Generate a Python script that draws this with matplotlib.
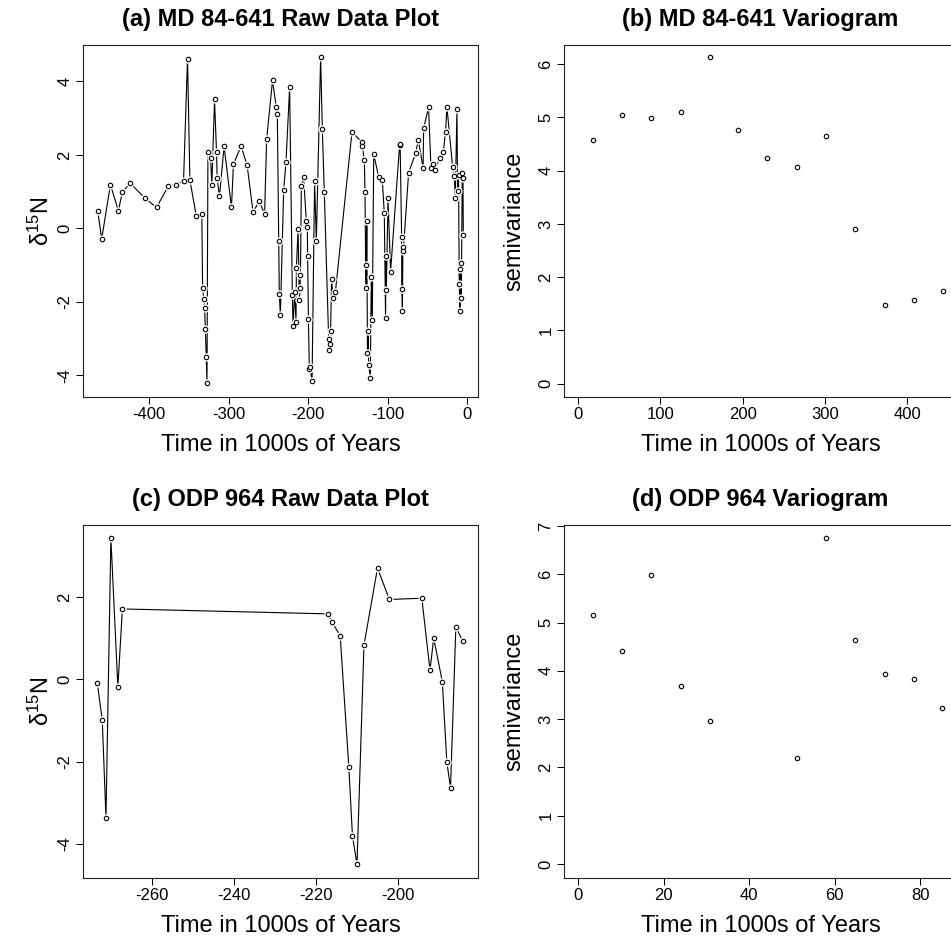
import matplotlib
matplotlib.use('Agg')
import matplotlib.pyplot as plt

plt.rcParams['font.family'] = ['Liberation Sans', 'DejaVu Sans']
plt.rcParams['mathtext.fontset'] = 'custom'
plt.rcParams['mathtext.rm'] = 'Liberation Sans'
plt.rcParams['mathtext.it'] = 'Liberation Sans:italic'
plt.rcParams['axes.unicode_minus'] = False

# ---------------- data ----------------
# (a) MD 84-641 raw data (time in kyr, d15N)
time_a = [-465, -460, -449, -439, -434, -424, -406, -391, -376, -366, -357, -352,
          -349, -341, -334, -333, -331.5, -330.5, -329.5, -328.5, -327.5, -326.3,
          -323, -321.4, -318, -315.5, -314.7, -311.8, -306, -296.7, -294.2, -284.6,
          -277, -269.5, -262, -255, -252.4, -245, -240.3, -239, -237.3, -236.5,
          -235.2, -231, -228.1, -223.5, -220.1, -219.2, -217.2, -215.5, -215,
          -212.9, -211.3, -210.4, -209.9, -208.8, -205.9, -202.5, -201.3, -200.9,
          -199.9, -198.7, -197.9, -195.3, -192.1, -189.9, -184.5, -182.4, -179.9,
          -174.4, -173.6, -172.8, -172, -170.7, -169, -166, -145, -133, -132,
          -129.5, -128.7, -127.9, -127.2, -126.4, -125.6, -124.8, -124.1, -122,
          -120.8, -119.5, -117.7, -111.6, -106.9, -104.4, -102.8, -102.3, -101.8,
          -99.7, -96.5, -85.2, -84.5, -82.6, -82.4, -81.6, -81.0, -80.5, -73.8,
          -65, -61.6, -55.6, -54.9, -48.7, -45.7, -43.6, -40.6, -34.8, -30.2,
          -27.3, -25.6, -18.5, -16.5, -15.1, -13, -12.2, -11, -10.1, -9.2, -8.8,
          -7.9, -7.5, -6.3, -5.4, -5]
d15n_a = [0.48, -0.29, 1.19, 0.48, 0.99, 1.23, 0.83, 0.57, 1.16, 1.19, 1.29, 4.62,
          1.32, 0.34, 0.38, -1.63, -1.91, -2.17, -2.73, -3.49, -4.2, 2.07,
          1.92, 1.19, 3.51, 2.07, 1.36, 0.87, 2.24, 0.57, 1.75, 2.24,
          1.72, 0.44, 0.74, 0.40, 2.44, 4.03, 3.29, 3.12, -0.34, -1.78,
          -2.36, 1.04, 1.81, 3.84, -1.81, -2.65, -1.72, -2.54, -1.07,
          -0.01, -1.95, -1.63, -1.27, 1.16, 1.40, 0.19, 0.04, -0.74,
          -2.45, -3.83, -3.76, -4.15, 1.29, -0.34, 4.66, 2.70, 1.00,
          -3.01, -3.31, -3.15, -2.80, -1.38, -1.88, -1.74, 2.63, 2.35, 2.25,
          1.85, 1.00, -0.99, -1.61, 0.21, -3.38, -2.78, -3.72, -4.06,
          -1.33, -2.49, 2.02, 1.41, 1.32, 0.41, -2.43, -0.74, -1.67,
          0.82, -1.18, 2.26, 2.30, -0.22, -1.65, -2.25, -0.51, -0.62, 1.52,
          2.04, 2.41, 1.65, 2.73, 3.29, 1.65, 1.75, 1.59, 1.91, 2.07,
          2.63, 3.31, 1.68, 1.43, 0.84, 3.24, 1.03, 1.45, -1.52, -2.24, -1.11,
          -0.93, -1.90, 1.50, 1.37, -0.18]

# (b) MD 84-641 variogram
lag_b = [18.6, 53.5, 88.7, 125.2, 160.0, 194.8, 230.0, 266.5, 301.7, 336.6, 373.0, 408.3, 443.1]
semi_b = [4.57, 5.04, 4.99, 5.11, 6.13, 4.77, 4.23, 4.07, 4.65, 2.91, 1.47, 1.58, 1.74]

# (c) ODP 964 raw data
time_c = [-273.3, -272.1, -271.2, -270.0, -268.3, -267.2, -217.0, -216.1, -214.1,
          -212.0, -211.1, -210.0, -208.3, -205.0, -202.1, -194.2, -192.2, -191.3,
          -189.2, -188.1, -187.2, -185.9, -184.2]
d15n_c = [-0.10, -1.00, -3.37, 3.43, -0.19, 1.71, 1.59, 1.39, 1.06,
          -2.12, -3.82, -4.49, 0.83, 2.70, 1.94, 1.97, 0.22, 1.00,
          -0.06, -2.01, -2.64, 1.27, 0.92]

# (d) ODP 964 variogram
lag_d = [3.58, 10.3, 17.1, 24.1, 30.8, 51.2, 58.0, 64.8, 71.7, 78.5, 85.2]
semi_d = [5.16, 4.41, 5.98, 3.68, 2.96, 2.20, 6.75, 4.63, 3.94, 3.84, 3.24]

titles = ['(a) MD 84-641 Raw Data Plot', '(b) MD 84-641 Variogram',
          '(c) ODP 964 Raw Data Plot', '(d) ODP 964 Variogram']
xlabel = 'Time in 1000s of Years'
ylab_raw = 'δ$^{15}$N'
ylab_var = 'semivariance'

# ---------------- layout ----------------
W, H = 951, 936
fig = plt.figure(figsize=(W / 100, H / 100), dpi=100)


def add_ax(l, t, r, b):
    return fig.add_axes([l / W, 1 - b / H, (r - l) / W, (b - t) / H])


def style(ax, xlim, ylim, xticks, yticks, title, ylabel, ylab_off):
    ax.set_xlim(*xlim)
    ax.set_ylim(*ylim)
    ax.set_xticks(xticks)
    ax.set_yticks(yticks)
    ax.tick_params(direction='out', length=5, width=0.75, labelsize=12, pad=2.5,
                   colors='black')
    ax.tick_params(axis='y', labelrotation=90)
    for lab in ax.get_yticklabels():
        lab.set_va('center')
    for sp in ax.spines.values():
        sp.set_linewidth(0.8)
        sp.set_color('#222222')
    ax.set_title(title, fontsize=17, fontweight='bold', pad=14)
    ax.set_xlabel(xlabel, fontsize=17)
    bbox = ax.get_position()
    h_px = bbox.height * H
    w_px = bbox.width * W
    ax.xaxis.set_label_coords(0.5, -54 / h_px)
    ax.xaxis.label.set_va('baseline')
    ax.set_ylabel(ylabel, fontsize=17)
    ax.yaxis.set_label_coords(-ylab_off / w_px, 0.5)
    ax.yaxis.label.set_va('baseline')


def raw_plot(ax, t, d):
    ax.plot(t, d, '-', color='black', lw=0.8, zorder=2)
    ax.plot(t, d, 'o', ms=6, mfc='white', mec='white', mew=0, zorder=3)
    ax.plot(t, d, 'o', ms=3.2, mfc='white', mec='black', mew=0.8, zorder=4)


def var_plot(ax, x, y):
    ax.plot(x, y, 'o', ms=3.2, mfc='white', mec='black', mew=0.8, zorder=4)


ax_a = add_ax(83, 45, 478, 397)
ax_b = add_ax(564, 45, 957, 397)
ax_c = add_ax(83, 525, 478, 878)
ax_d = add_ax(564, 525, 957, 878)

raw_plot(ax_a, time_a, d15n_a)
style(ax_a, (-483.5, 13.5), (-4.585, 4.99), [-400, -300, -200, -100, 0],
      [-4, -2, 0, 2, 4], titles[0], ylab_raw, 34)

var_plot(ax_b, lag_b, semi_b)
style(ax_b, (-17, 460.5), (-0.25, 6.36), [0, 100, 200, 300, 400],
      [0, 1, 2, 3, 4, 5, 6], titles[1], ylab_var, 44)

raw_plot(ax_c, time_c, d15n_c)
style(ax_c, (-276.8, -180.5), (-4.83, 3.75), [-260, -240, -220, -200],
      [-4, -2, 0, 2], titles[2], ylab_raw, 34)

var_plot(ax_d, lag_d, semi_d)
style(ax_d, (-3.3, 88.6), (-0.29, 7.02), [0, 20, 40, 60, 80],
      [0, 1, 2, 3, 4, 5, 6, 7], titles[3], ylab_var, 44)

fig.savefig('out.png', dpi=100)
